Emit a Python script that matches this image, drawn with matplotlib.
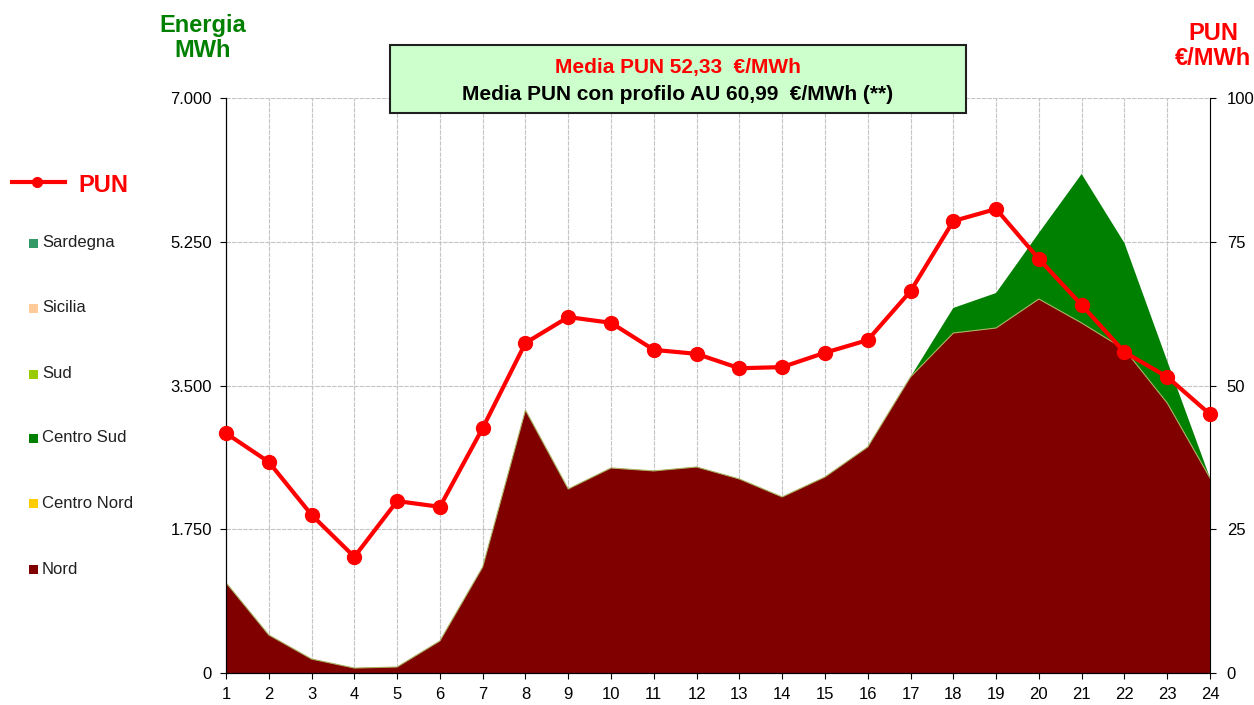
"""
Profilo orario energia per zona + PUN
"""
import matplotlib
matplotlib.use("Agg")
import matplotlib.pyplot as plt
from matplotlib.lines import Line2D
from matplotlib.patches import Rectangle
from matplotlib.ticker import FuncFormatter
import numpy as np

plt.rcParams["font.family"] = ["Liberation Sans", "DejaVu Sans"]

hours = list(range(1, 25))

# energia per zona (MWh)
nord = [1100, 463, 170, 60, 73, 390, 1290, 3200, 2240, 2496, 2460, 2508,
        2362, 2143, 2386, 2751, 3604, 4139, 4200, 4553, 4261, 3940, 3287, 2374]
centro_nord = [0] * 24
centro_sud = [0, 0, 0, 0, 0, 0, 0, 0, 0, 0, 0, 0,
              0, 0, 0, 0, 0, 305, 426, 804, 1814, 1295, 511, 0]
sud = [0] * 24
sicilia = [0] * 24
sardegna = [0] * 24

# PUN (EUR/MWh)
pun = [41.7, 36.7, 27.5, 20.2, 29.9, 28.9, 42.6, 57.4, 61.9, 60.9, 56.2, 55.5,
       53.0, 53.2, 55.7, 57.9, 66.4, 78.6, 80.7, 72.0, 64.0, 55.8, 51.5, 45.0]

zone_names = ["Nord", "Centro Nord", "Centro Sud", "Sud", "Sicilia", "Sardegna"]
zone_colors = ["#800000", "#FFCC00", "#008000", "#99CC00", "#FFCC99", "#339966"]

fig = plt.figure(figsize=(12.54, 7.05), dpi=100)
ax = fig.add_axes([226 / 1254, 1 - 673 / 705, (1210 - 226) / 1254, (673 - 98) / 705])

layers = [nord, centro_nord, centro_sud, sud, sicilia, sardegna]
ax.stackplot(hours, *layers, colors=zone_colors, linewidth=0, zorder=2)
# bordo sottile degli strati nulli sopra Nord
ax.plot(hours, np.array(nord), color="#a8b060", lw=0.8, zorder=3)

ax.set_xlim(1, 24)
ax.set_ylim(0, 7000)
ax.set_yticks([0, 1750, 3500, 5250, 7000])
ax.yaxis.set_major_formatter(FuncFormatter(lambda v, p: f"{int(v):,}".replace(",", ".")))
ax.set_xticks(hours)
ax.grid(True, color="#c4c4c4", lw=0.8, linestyle=(0, (4, 1)), zorder=0)
ax.set_axisbelow(True)
ax.spines["top"].set_visible(False)
ax.spines["right"].set_visible(False)
ax.tick_params(axis="both", labelsize=12, length=4, direction="out", pad=6)

ax2 = ax.twinx()
ax2.plot(hours, pun, color="#FF0000", lw=3, marker="o", markersize=10, zorder=5,
         clip_on=False)
ax2.set_ylim(0, 100)
ax2.set_yticks([0, 25, 50, 75, 100])
ax2.spines["top"].set_visible(False)
ax2.tick_params(axis="y", labelsize=12, length=4, pad=8)

# titoli assi
fig.text(203 / 1254, 1 - 38 / 705, "Energia\nMWh", color="#008000", fontsize=17,
         fontweight="bold", ha="center", va="center", linespacing=1.15)
fig.text(1213 / 1254, 1 - 46 / 705, "PUN\n€/MWh", color="#FF0000", fontsize=17,
         fontweight="bold", ha="center", va="center", linespacing=1.15)

# box media PUN
box = Rectangle((390 / 1254, 1 - 113 / 705), 576 / 1254, 68 / 705, transform=fig.transFigure,
                facecolor="#CCFFCC", edgecolor="#202020", lw=1.5, zorder=10)
fig.add_artist(box)
fig.text(678 / 1254, 1 - 68 / 705, "Media PUN 52,33  €/MWh", color="#FF0000",
         fontsize=15, fontweight="bold", ha="center", va="center", zorder=11)
fig.text(678 / 1254, 1 - 94 / 705, "Media PUN con profilo AU 60,99  €/MWh (**)",
         color="black", fontsize=15, fontweight="bold", ha="center", va="center", zorder=11)

# legenda a sinistra
fig.add_artist(Line2D([12 / 1254, 65 / 1254], [1 - 182 / 705] * 2, transform=fig.transFigure,
                      color="#FF0000", lw=3))
fig.add_artist(Line2D([37 / 1254], [1 - 182 / 705], transform=fig.transFigure,
                      color="#FF0000", marker="o", markersize=7))
fig.text(78 / 1254, 1 - 186 / 705, "PUN", color="#FF0000", fontsize=17,
         fontweight="bold", va="center")

legend_rows = [("Sardegna", 243), ("Sicilia", 308), ("Sud", 374),
               ("Centro Sud", 438), ("Centro Nord", 503), ("Nord", 569)]
for name, ypx in legend_rows:
    col = zone_colors[zone_names.index(name)]
    fig.add_artist(Rectangle((29 / 1254, 1 - (ypx + 5) / 705), 9 / 1254, 9 / 705,
                             transform=fig.transFigure, facecolor=col, edgecolor="none"))
    fig.text(42 / 1254, 1 - ypx / 705, name, fontsize=12, va="center", color="#202020")

fig.savefig("out.png", dpi=100)
